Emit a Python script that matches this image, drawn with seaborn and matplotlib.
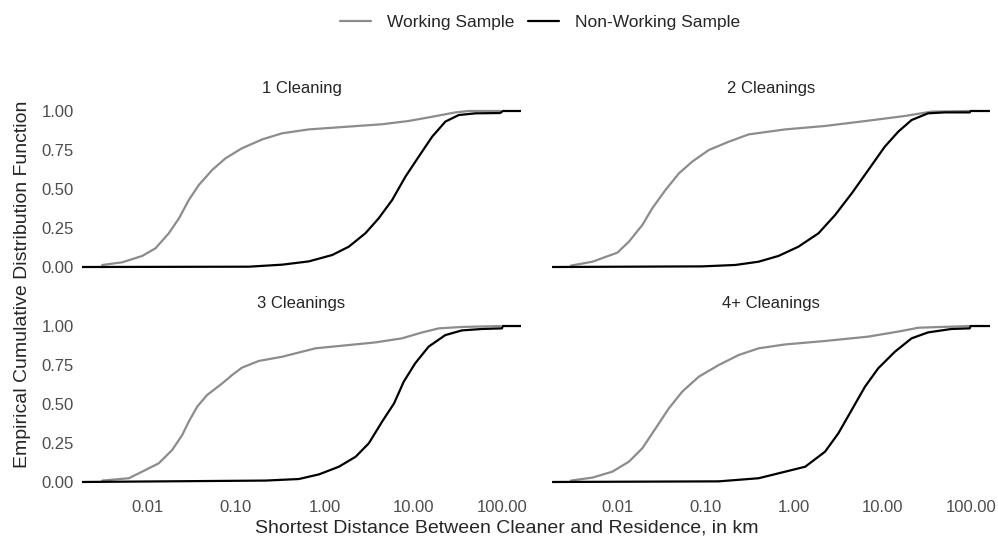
import pandas as pd
import matplotlib
matplotlib.use("Agg")
import matplotlib.pyplot as plt
import seaborn as sns
from matplotlib.lines import Line2D
from matplotlib.ticker import NullLocator

# facet / series names
panels = ["1 Cleaning", "2 Cleanings", "3 Cleanings", "4+ Cleanings"]
samples = ["Working Sample", "Non-Working Sample"]
colors = {"Working Sample": "#8c8c8c", "Non-Working Sample": "#000000"}

x_ticks = [0.01, 0.1, 1, 10, 100]
x_tick_labels = ["0.01", "0.10", "1.00", "10.00", "100.00"]
y_ticks = [0, 0.25, 0.5, 0.75, 1]
y_tick_labels = ["0.00", "0.25", "0.50", "0.75", "1.00"]

# values: distance (km) and ECDF
work_1_km = [0.00311, 0.00522, 0.00879, 0.0124, 0.0175, 0.0228, 0.0294, 0.0382,
             0.0540, 0.0764, 0.117, 0.198, 0.332, 0.664, 1.87, 4.45,
             8.87, 16.3, 29.8, 42.1, 95.7]
work_1_ecdf = [0.013, 0.030, 0.071, 0.120, 0.216, 0.312, 0.429, 0.526,
               0.622, 0.697, 0.761, 0.818, 0.857, 0.882, 0.900, 0.915,
               0.936, 0.963, 0.991, 1.0, 1.0]
nonwork_1_km = [0.00185, 0.140, 0.332, 0.664, 1.22, 1.87, 2.88, 4.07, 5.77,
                8.15, 11.5, 16.3, 23.0, 32.5, 50.1, 95.7, 102, 163]
nonwork_1_ecdf = [0, 0.002, 0.015, 0.036, 0.077, 0.130, 0.216, 0.312, 0.429,
                  0.579, 0.707, 0.835, 0.932, 0.974, 0.985, 0.987, 1.0, 1.0]

work_2_km = [0.00301, 0.00527, 0.0101, 0.0136, 0.0193, 0.0250, 0.0353, 0.0500,
             0.0706, 0.109, 0.183, 0.307, 0.794, 2.24, 6.90, 17.9, 35.7, 96.6]
work_2_ecdf = [0.009, 0.034, 0.092, 0.162, 0.269, 0.376, 0.494, 0.600,
               0.675, 0.750, 0.803, 0.850, 0.882, 0.904, 0.938, 0.968, 0.996, 1.0]
nonwork_2_km = [0.00187, 0.0916, 0.217, 0.398, 0.668, 1.12, 1.89, 2.91, 4.49,
                6.92, 10.6, 15.1, 21.3, 32.7, 50.5, 96.6, 99.1, 162]
nonwork_2_ecdf = [0, 0.004, 0.013, 0.034, 0.071, 0.130, 0.216, 0.333, 0.472,
                  0.622, 0.771, 0.868, 0.942, 0.985, 0.991, 0.991, 1.0, 1.0]

work_3_km = [0.00311, 0.00621, 0.00957, 0.0135, 0.0191, 0.0248, 0.0294, 0.0366,
             0.0474, 0.0700, 0.0908, 0.117, 0.181, 0.332, 0.789, 1.87,
             3.74, 7.46, 12.6, 19.4, 35.4, 95.7]
work_3_ecdf = [0.009, 0.024, 0.077, 0.120, 0.205, 0.301, 0.387, 0.483,
               0.558, 0.632, 0.686, 0.733, 0.776, 0.803, 0.857, 0.878,
               0.895, 0.921, 0.959, 0.985, 0.994, 1.0]
nonwork_3_km = [0.00185, 0.215, 0.512, 0.867, 1.45, 2.24, 3.15, 4.45, 6.07,
                7.80, 10.5, 14.9, 23.0, 35.4, 59.6, 100, 102, 163]
nonwork_3_ecdf = [0, 0.009, 0.019, 0.049, 0.098, 0.162, 0.248, 0.387, 0.504,
                  0.643, 0.761, 0.868, 0.942, 0.972, 0.981, 0.985, 1.0, 1.0]

work_4_km = [0.00301, 0.00527, 0.00885, 0.0136, 0.0193, 0.0273, 0.0385, 0.0545,
             0.0839, 0.141, 0.237, 0.398, 0.794, 2.24, 6.90, 16.4, 25.3, 96.6]
work_4_ecdf = [0.009, 0.028, 0.066, 0.130, 0.216, 0.344, 0.472, 0.579,
               0.675, 0.750, 0.814, 0.857, 0.882, 0.904, 0.932, 0.968, 0.989, 1.0]
nonwork_4_km = [0.00187, 0.141, 0.398, 0.794, 1.34, 2.24, 3.17, 4.49, 6.34,
                8.95, 13.8, 21.3, 32.7, 60.0, 96.6, 99.1, 162]
nonwork_4_ecdf = [0, 0.004, 0.024, 0.066, 0.098, 0.194, 0.312, 0.462, 0.611,
                  0.729, 0.835, 0.921, 0.959, 0.981, 0.985, 1.0, 1.0]

series = [
    (panels[0], samples[0], work_1_km, work_1_ecdf),
    (panels[0], samples[1], nonwork_1_km, nonwork_1_ecdf),
    (panels[1], samples[0], work_2_km, work_2_ecdf),
    (panels[1], samples[1], nonwork_2_km, nonwork_2_ecdf),
    (panels[2], samples[0], work_3_km, work_3_ecdf),
    (panels[2], samples[1], nonwork_3_km, nonwork_3_ecdf),
    (panels[3], samples[0], work_4_km, work_4_ecdf),
    (panels[3], samples[1], nonwork_4_km, nonwork_4_ecdf),
]
rows = []
for panel, sample, km, ecdf in series:
    for d, e in zip(km, ecdf):
        rows.append({"panel": panel, "sample": sample, "km": d, "ecdf": e})
df = pd.DataFrame(rows)

sns.set_style("white")
plt.rcParams["font.family"] = ["Liberation Sans", "DejaVu Sans"]

g = sns.relplot(data=df, x="km", y="ecdf", hue="sample", col="panel", col_wrap=2,
                col_order=panels, hue_order=samples, palette=colors,
                kind="line", estimator=None, sort=True, linewidth=1.6,
                legend=False, height=3, aspect=1.5)
fig = g.figure
fig.set_size_inches(9.98, 5.40)

positions = [
    [0.0822, 0.4911, 0.4399, 0.3178],
    [0.5531, 0.4911, 0.4389, 0.3178],
    [0.0822, 0.0930, 0.4399, 0.3177],
    [0.5531, 0.0930, 0.4389, 0.3177],
]
g.set_titles("{col_name}", size=12, pad=7.5)
for ax, pos in zip(g.axes.flat, positions):
    ax.set_position(pos)
    ax.set_xscale("log")
    ax.set_xlim(10 ** -2.735, 10 ** 2.215)
    ax.set_ylim(-0.05, 1.05)
    ax.set_xticks(x_ticks)
    ax.set_xticklabels(x_tick_labels)
    ax.xaxis.set_minor_locator(NullLocator())
    ax.set_yticks(y_ticks)
    ax.set_yticklabels(y_tick_labels)
    ax.tick_params(axis="both", length=0, labelsize=12, labelcolor="#4d4d4d")
    ax.tick_params(axis="x", pad=7)
    ax.tick_params(axis="y", pad=6)
    ax.set_xlabel("")
    ax.set_ylabel("")
    ax.grid(False)
    for s in ax.spines.values():
        s.set_visible(False)

fig.text(0.508, 0.022, "Shortest Distance Between Cleaner and Residence, in km",
         ha="center", va="center", fontsize=14)
fig.text(0.023, 0.474, "Empirical Cumulative Distribution Function",
         ha="center", va="center", rotation=90, fontsize=14)

handles = [Line2D([], [], color=colors[s], linewidth=1.6) for s in samples]
fig.legend(handles, samples, loc="center", bbox_to_anchor=(0.541, 0.959), ncol=2,
           frameon=False, fontsize=12.5, handlelength=1.8, handletextpad=0.9,
           columnspacing=0.8)

fig.savefig("out.png", dpi=100)
